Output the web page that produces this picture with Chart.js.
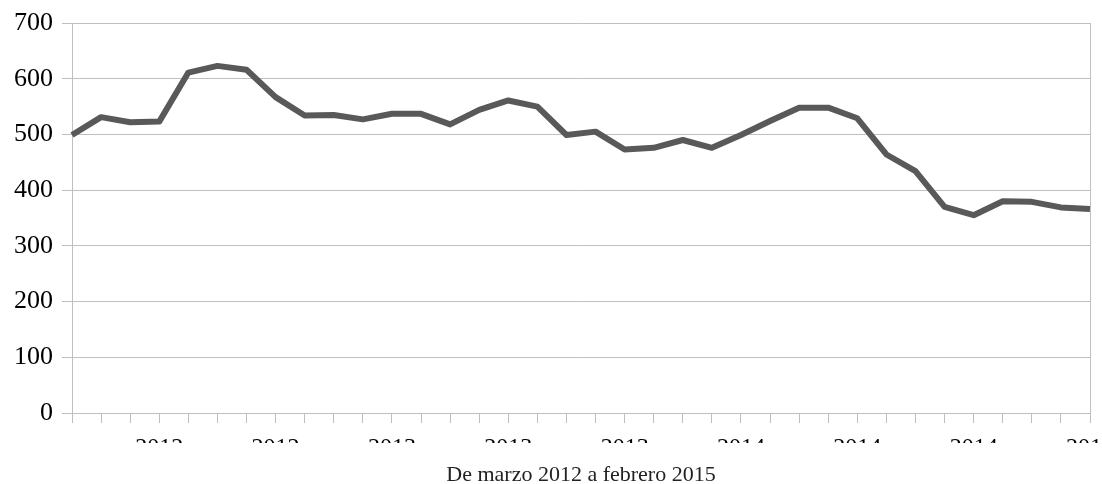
<!DOCTYPE html>
<html>
<head>
<meta charset="utf-8">
<script src="https://cdn.jsdelivr.net/npm/chart.js@4/dist/chart.umd.min.js"></script>
<style>
    html, body { margin: 0; padding: 0; background: #fff; }
    #wrap { width: 1102px; height: 484px; }
</style>
</head>
<body>
<div id="wrap"><canvas id="chart"></canvas></div>
<script>
// Months from March 2012 to February 2015
const months = [
    'mar 2012', 'abr 2012', 'may 2012', 'jun 2012', 'jul 2012', 'ago 2012', 'sep 2012', 'oct 2012', 'nov 2012', 'dic 2012',
    'ene 2013', 'feb 2013', 'mar 2013', 'abr 2013', 'may 2013', 'jun 2013', 'jul 2013', 'ago 2013', 'sep 2013', 'oct 2013', 'nov 2013', 'dic 2013',
    'ene 2014', 'feb 2014', 'mar 2014', 'abr 2014', 'may 2014', 'jun 2014', 'jul 2014', 'ago 2014', 'sep 2014', 'oct 2014', 'nov 2014', 'dic 2014',
    'ene 2015', 'feb 2015'
];

// Values
const values = [
    499, 531, 522, 523, 611, 623, 616, 567, 534, 535,
    527, 537, 537, 518, 544, 561, 550, 499, 505, 473, 476, 490,
    476, 499, 524, 548, 548, 529, 464, 434, 370, 355, 380, 379,
    369, 366
];

// Year labels shown under every fourth month
const xTickLabels = [
    '', '', '', '2012', '', '', '', '2012', '', '',
    '', '2013', '', '', '', '2013', '', '', '', '2013', '', '',
    '', '2014', '', '', '', '2014', '', '', '', '2014', '', '',
    '', '2015'
];

const yMin = 0;
const yMax = 700;
const yStep = 100;

const gridGray = '#bfbfbf';
const lineGray = '#595959';

// hides the lower part of the year labels, as in the source picture
const clipLabels = {
    id: 'clipLabels',
    afterDraw(chart) {
        const ctx = chart.ctx;
        ctx.save();
        ctx.fillStyle = '#fff';
        ctx.fillRect(0, 443, chart.width, 17);
        ctx.restore();
    }
};

const ctx = document.getElementById('chart').getContext('2d');

new Chart(ctx, {
    type: 'line',
    data: {
        labels: months,
        datasets: [{
            data: values,
            borderColor: lineGray,
            borderWidth: 6,
            borderJoinStyle: 'round',
            pointRadius: 0,
            tension: 0,
            fill: false
        }]
    },
    options: {
        responsive: true,
        maintainAspectRatio: false,
        animation: false,
        layout: { padding: { top: 23, right: 12, bottom: -8, left: 0 } },
        plugins: {
            legend: { display: false },
            tooltip: { enabled: false }
        },
        scales: {
            x: {
                offset: false,
                border: { color: gridGray, width: 1 },
                grid: {
                    color: c => (c.index === months.length - 1 ? gridGray : 'rgba(0,0,0,0)'),
                    tickColor: gridGray,
                    tickLength: 10
                },
                ticks: {
                    autoSkip: false,
                    maxRotation: 0,
                    padding: 10,
                    color: '#000',
                    font: { family: '"Liberation Serif", "Times New Roman", serif', size: 24 },
                    callback: (val, i) => xTickLabels[i]
                },
                title: {
                    display: true,
                    text: 'De marzo 2012 a febrero 2015',
                    color: '#222',
                    font: { family: '"Liberation Serif", "Times New Roman", serif', size: 22 },
                    padding: { top: 0, bottom: 4 }
                },
                afterFit: scale => {
                    scale.height = 79;
                    scale.paddingLeft = 0;
                    scale.paddingRight = 0;
                }
            },
            y: {
                min: yMin,
                max: yMax,
                border: { color: gridGray, width: 1 },
                grid: { color: gridGray, tickLength: 10 },
                ticks: {
                    stepSize: yStep,
                    padding: 9,
                    color: '#000',
                    font: { family: '"Liberation Serif", "Times New Roman", serif', size: 26 }
                },
                afterFit: scale => {
                    scale.width = 72;
                    scale.paddingTop = 0;
                    scale.paddingBottom = 0;
                }
            }
        }
    },
    plugins: [clipLabels]
});
</script>
</body>
</html>
